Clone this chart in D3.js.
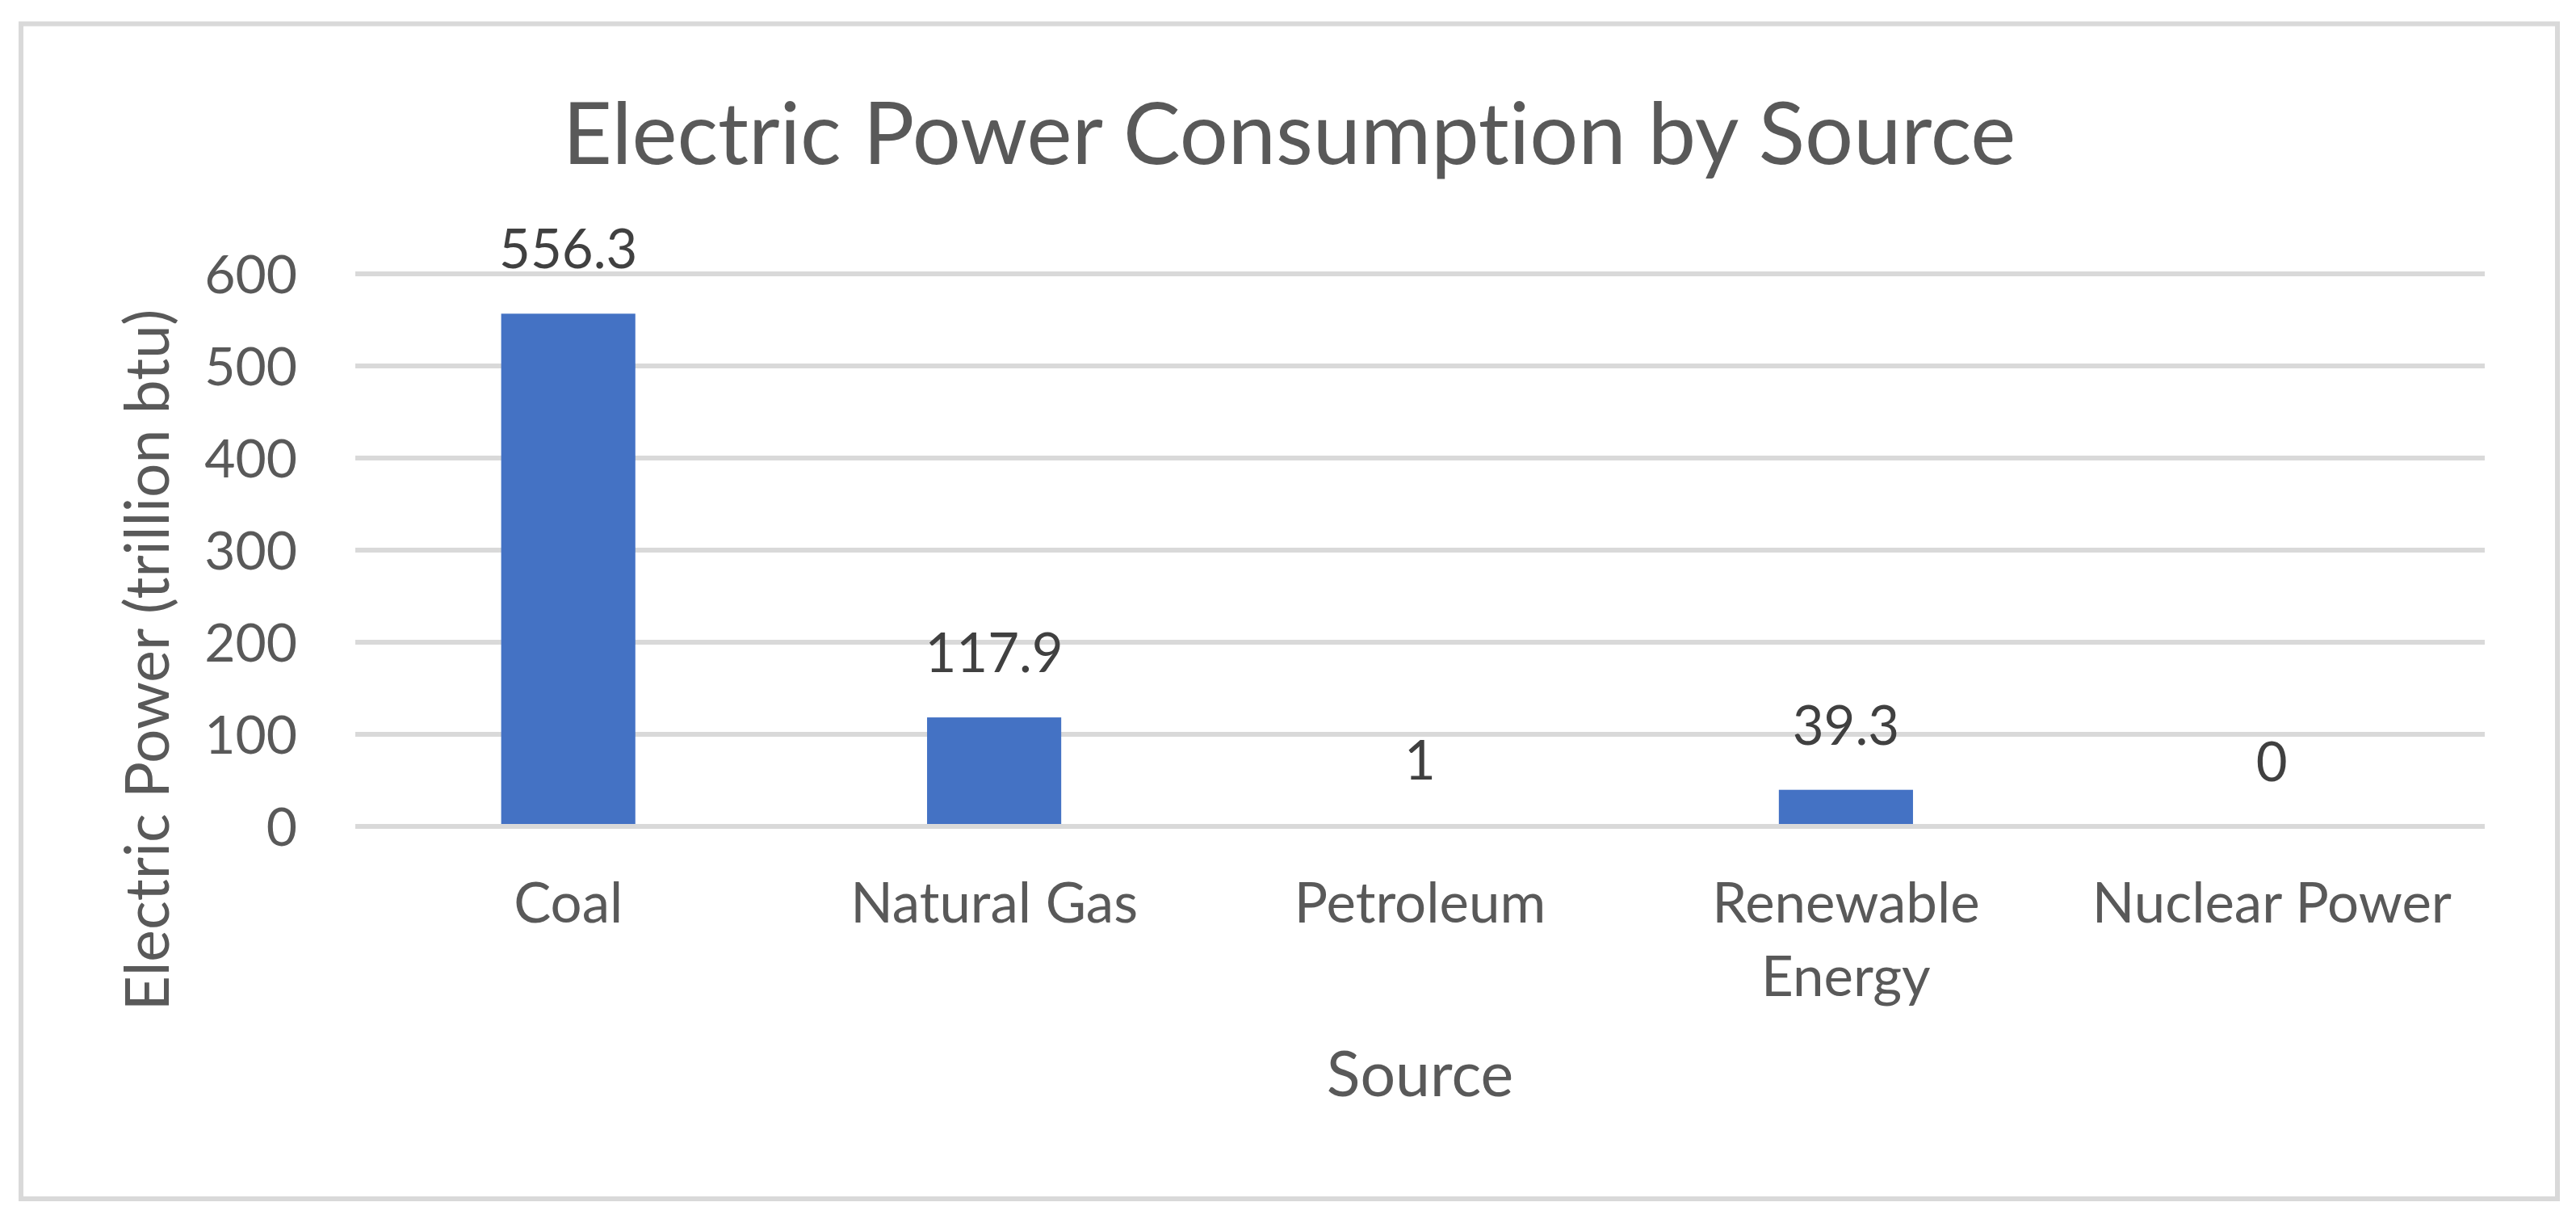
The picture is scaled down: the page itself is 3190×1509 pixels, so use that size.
<!DOCTYPE html>
<html>
<head>
<meta charset="utf-8">
<script src="https://cdn.jsdelivr.net/npm/d3@7"></script>
<style>
  html, body { margin: 0; padding: 0; background: #ffffff; }
  svg { display: block; }
  text { font-variant-ligatures: none; font-feature-settings: "liga" 0, "clig" 0; }
</style>
</head>
<body>
<svg id="chart" width="3190" height="1509"></svg>
<script>
// ---- data ----
const categories = ["Coal", "Natural Gas", "Petroleum", "Renewable Energy", "Nuclear Power"];
const values = [556.3, 117.9, 1, 39.3, 0];
const dataLabels = ["556.3", "117.9", "1", "39.3", "0"];
const yTicks = [0, 100, 200, 300, 400, 500, 600];
const chartTitle = "Electric Power Consumption by Source";
const xAxisTitle = "Source";
const yAxisTitle = "Electric Power (trillion btu)";

// ---- layout ----
const W = 3190, H = 1509;
const plot = { left: 440, right: 3077, top: 338.5, bottom: 1022.5 };
const FONT = "Lato, 'Open Sans', sans-serif";

const svg = d3.select("#chart");

// chart border
svg.append("rect")
  .attr("x", 26).attr("y", 29.5)
  .attr("width", 3141).attr("height", 1454.5)
  .attr("fill", "#ffffff")
  .attr("stroke", "#d9d9d9")
  .attr("stroke-width", 6);

const x = d3.scaleBand()
  .domain(categories)
  .range([plot.left, plot.right])
  .paddingInner(0.685)
  .paddingOuter(0.3425);

const y = d3.scaleLinear()
  .domain([0, 600])
  .range([plot.bottom, plot.top]);

// gridlines (behind bars)
const grid = svg.append("g")
  .attr("transform", `translate(${plot.left},0)`)
  .call(d3.axisLeft(y).tickValues(yTicks.filter(d => d !== 0)).tickSize(-(plot.right - plot.left)).tickFormat(""));
grid.select(".domain").remove();
grid.selectAll(".tick line").attr("stroke", "#d9d9d9").attr("stroke-width", 6);

// y tick labels
const yAxis = svg.append("g")
  .attr("transform", `translate(${plot.left},0)`)
  .call(d3.axisLeft(y).tickValues(yTicks).tickSize(0).tickPadding(72).tickFormat(d3.format("d")));
yAxis.select(".domain").remove();
yAxis.selectAll(".tick text")
  .attr("font-family", FONT)
  .attr("font-size", 66)
  .attr("fill", "#595959")
  .attr("dy", "0.36em");

// bars
svg.append("g").selectAll("rect")
  .data(values)
  .join("rect")
  .attr("x", (d, i) => x(categories[i]))
  .attr("width", x.bandwidth())
  .attr("y", d => y(d))
  .attr("height", d => y(0) - y(d))
  .attr("fill", "#4472c4");

// category axis line at zero (drawn over bars)
const zeroLine = svg.append("g")
  .attr("transform", `translate(${plot.left},0)`)
  .call(d3.axisLeft(y).tickValues([0]).tickSize(-(plot.right - plot.left)).tickFormat(""));
zeroLine.select(".domain").remove();
zeroLine.selectAll(".tick line").attr("stroke", "#d9d9d9").attr("stroke-width", 6);

// data labels
svg.append("g").selectAll("text")
  .data(values)
  .join("text")
  .attr("x", (d, i) => x(categories[i]) + x.bandwidth() / 2)
  .attr("y", d => y(d) - 56)
  .attr("text-anchor", "middle")
  .attr("font-family", FONT)
  .attr("font-size", 67)
  .attr("fill", "#404040")
  .text((d, i) => dataLabels[i]);

// x axis (category labels)
const step = x.step();
const xAxis = svg.append("g")
  .attr("transform", `translate(0,${plot.bottom})`)
  .call(d3.axisBottom(x).tickSize(0).tickPadding(0));
xAxis.select(".domain").remove();
xAxis.selectAll(".tick text")
  .attr("font-family", FONT)
  .attr("font-size", 69)
  .attr("fill", "#595959")
  .attr("y", 0)
  .attr("dy", null)
  .each(function(d) {
    const t = d3.select(this);
    t.text(null);
    const words = d.split(" ");
    const probe = t.append("tspan").text(d);
    const w = probe.node().getComputedTextLength();
    probe.remove();
    const lines = (w > step * 0.98 && words.length > 1) ? words : [d];
    lines.forEach((ln, k) => {
      t.append("tspan").attr("x", 0).attr("y", 119.5 + k * 91).text(ln);
    });
  });

// chart title
svg.append("text")
  .attr("x", (26 + 3167) / 2)
  .attr("y", 203)
  .attr("text-anchor", "middle")
  .attr("font-family", FONT)
  .attr("font-size", 106)
  .attr("fill", "#595959")
  .text(chartTitle);

// x axis title
svg.append("text")
  .attr("x", (plot.left + plot.right) / 2)
  .attr("y", 1357)
  .attr("text-anchor", "middle")
  .attr("font-family", FONT)
  .attr("font-size", 77)
  .attr("fill", "#595959")
  .text(xAxisTitle);

// y axis title
svg.append("text")
  .attr("transform", "translate(209,817) rotate(-90)")
  .attr("text-anchor", "middle")
  .attr("font-family", FONT)
  .attr("font-size", 75)
  .attr("fill", "#595959")
  .text(yAxisTitle);
</script>
</body>
</html>
